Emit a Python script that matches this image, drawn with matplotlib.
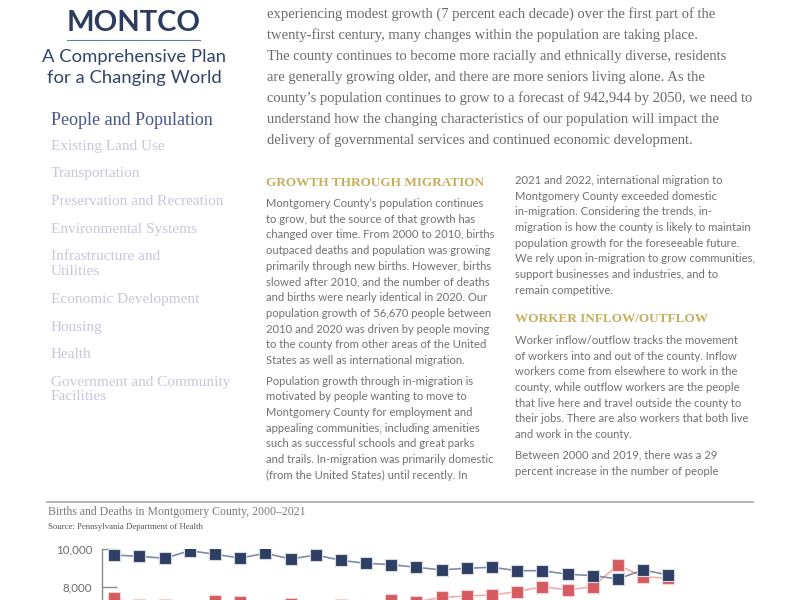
import matplotlib
matplotlib.use("Agg")
import matplotlib.pyplot as plt

# data
years = list(range(2000, 2023))
births = [9680, 9610, 9510, 9910, 9720, 9520, 9770, 9470, 9680, 9400, 9240,
          9170, 9030, 8890, 8980, 9030, 8850, 8850, 8660, 8590, 8410, 8890, 8620]
deaths = [7380, 7030, 7050, 6900, 7230, 7200, 7000, 7080, 6900, 7030, 6980,
          7280, 7200, 7430, 7510, 7560, 7740, 8000, 7830, 8000, 9150, 8530, 8450]
y_ticks = [8000, 10000]

nav_items = ["People and Population", "Existing Land Use", "Transportation",
             "Preservation and Recreation", "Environmental Systems",
             "Infrastructure and\nUtilities", "Economic Development", "Housing",
             "Health", "Government and Community\nFacilities"]
nav_y = [118, 146, 173, 201, 229, 256, 299, 327, 354, 382]

intro_lines = [
    "experiencing modest growth (7 percent each decade) over the first part of the",
    "twenty-first century, many changes within the population are taking place.",
    "The county continues to become more racially and ethnically diverse, residents",
    "are generally growing older, and there are more seniors living alone. As the",
    "county\u2019s population continues to grow to a forecast of 942,944 by 2050, we need to",
    "understand how the changing characteristics of our population will impact the",
    "delivery of governmental services and continued economic development.",
]
left_col = [
    "Montgomery County\u2019s population continues",
    "to grow, but the source of that growth has",
    "changed over time. From 2000 to 2010, births",
    "outpaced deaths and population was growing",
    "primarily through new births. However, births",
    "slowed after 2010, and the number of deaths",
    "and births were nearly identical in 2020. Our",
    "population growth of 56,670 people between",
    "2010 and 2020 was driven by people moving",
    "to the county from other areas of the United",
    "States as well as international migration.",
    None,
    "Population growth through in-migration is",
    "motivated by people wanting to move to",
    "Montgomery County for employment and",
    "appealing communities, including amenities",
    "such as successful schools and great parks",
    "and trails. In-migration was primarily domestic",
    "(from the United States) until recently. In",
]
right_col_a = [
    "2021 and 2022, international migration to",
    "Montgomery County exceeded domestic",
    "in-migration. Considering the trends, in-",
    "migration is how the county is likely to maintain",
    "population growth for the foreseeable future.",
    "We rely upon in-migration to grow communities,",
    "support businesses and industries, and to",
    "remain competitive.",
]
right_col_b = [
    "Worker inflow/outflow tracks the movement",
    "of workers into and out of the county. Inflow",
    "workers come from elsewhere to work in the",
    "county, while outflow workers are the people",
    "that live here and travel outside the county to",
    "their jobs. There are also workers that both live",
    "and work in the county.",
    None,
    "Between 2000 and 2019, there was a 29",
    "percent increase in the number of people",
]

W, H = 800, 600
NAVY = "#2c3c5f"
GOLD = "#c4ae5c"
BODY = "#707070"
SERIF = "Liberation Serif"
SANS = "Lato"


def px(x, y):
    return x / W, 1 - y / H


fig = plt.figure(figsize=(8, 6), dpi=100)
fig.patch.set_facecolor("white")

# masthead
fig.text(*px(133.5, 31), "MONTCO", ha="center", va="baseline", fontsize=21,
         fontweight="bold", family=SANS, color=NAVY)
fig.add_artist(plt.Line2D([67 / W, 200 / W], [1 - 40 / H, 1 - 40 / H],
                          color="#6c7a98", lw=0.8))
fig.text(*px(134, 62), "A Comprehensive Plan", ha="center", va="baseline",
         fontsize=13.3, family=SANS, color="#34436a")
fig.text(*px(134, 83), "for a Changing World", ha="center", va="baseline",
         fontsize=13.3, family=SANS, color="#34436a")

# side navigation
for i, (label, y) in enumerate(zip(nav_items, nav_y)):
    active = i == 0
    fig.text(*px(51, y - 6), label, ha="left", va="top", family=SERIF,
             fontsize=13 if active else 11, linespacing=1.15,
             color="#4b5488" if active else "#c7c6dc")

# intro paragraph
for i, line in enumerate(intro_lines):
    fig.text(*px(267, 18 + 21 * i), line, ha="left", va="baseline",
             family=SERIF, fontsize=10.5, color="#6a6a6a")


def column(x, y0, lines, step=15.7, gap=5):
    y = y0
    for line in lines:
        if line is None:
            y += gap
            continue
        fig.text(*px(x, y), line, ha="left", va="baseline", family=SANS,
                 fontsize=8.15, color=BODY)
        y += step


fig.text(*px(266, 186), "GROWTH THROUGH MIGRATION", ha="left", va="baseline",
         family=SERIF, fontweight="bold", fontsize=9.5, color=GOLD)
column(266, 207, left_col)
column(515, 184, right_col_a)
fig.text(*px(515, 322), "WORKER INFLOW/OUTFLOW", ha="left", va="baseline",
         family=SERIF, fontweight="bold", fontsize=9.5, color=GOLD)
column(515, 344, right_col_b)

# chart header
fig.add_artist(plt.Line2D([47 / W, 753 / W], [1 - 501.5 / H, 1 - 501.5 / H],
                          color="#a8a8a8", lw=1.2))
fig.text(*px(48, 515), "Births and Deaths in Montgomery County, 2000\u20132021",
         ha="left", va="baseline", family=SERIF, fontsize=8.5, color="#7a7a7a")
fig.text(*px(48, 529), "Source: Pennsylvania Department of Health",
         ha="left", va="baseline", family=SERIF, fontsize=6.3, color="#555555")

# chart axes: 10,000 sits at y=549 px, 2,000 units = 37.7 px
ax_top = 549
ax_bot = ax_top + 10000 * 37.7 / 2000
ax_left, ax_right = 101.7, 753
ax = fig.add_axes([ax_left / W, 1 - ax_bot / H, (ax_right - ax_left) / W,
                   (ax_bot - ax_top) / H])
step = 25.18
ax.set_xlim(years[0] - 0.5, years[0] - 0.5 + (ax_right - ax_left) / step)
ax.set_ylim(0, 10000)

ax.plot(years, deaths, color="#f2acac", lw=1.2, marker="s", ms=9,
        mfc="#d65b60", mec="#f4d2d2", mew=0.8, zorder=2)
ax.plot(years, births, color="#7d8aa8", lw=1.2, marker="s", ms=9,
        mfc="#2e3f63", mec="#d5d9e3", mew=0.8, zorder=3)

ax.set_yticks(y_ticks)
ax.set_yticklabels([f"{v:,}" for v in y_ticks], family=SANS, fontsize=8.3,
                   color="#6a6a6a")
ax.tick_params(axis="y", direction="in", length=10.5, width=1,
               color="#8a8a8a", pad=7)
ax.set_xticks([])
for side in ["top", "right", "bottom"]:
    ax.spines[side].set_visible(False)
ax.spines["left"].set_color("#8a8a8a")
ax.spines["left"].set_linewidth(1)
ax.patch.set_alpha(0)

fig.savefig("out.png", dpi=100)
